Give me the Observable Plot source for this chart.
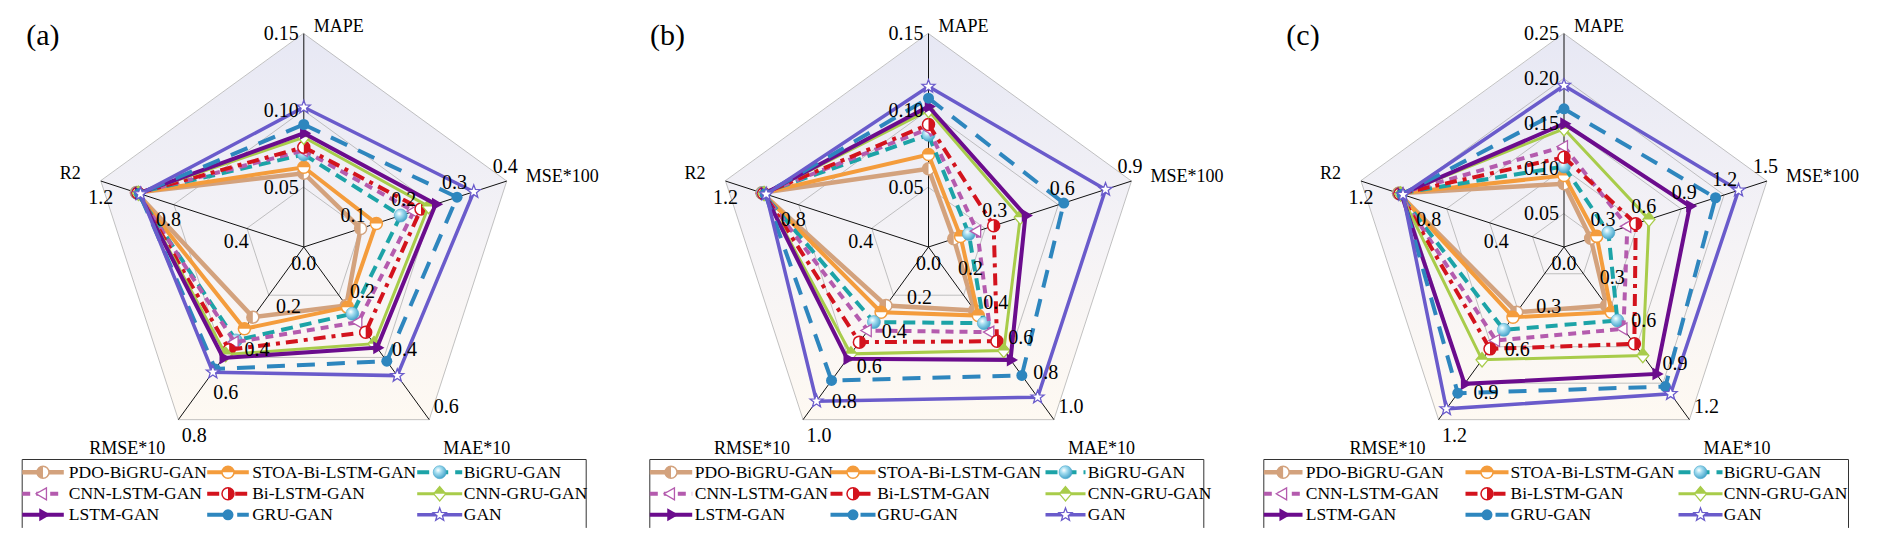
<!DOCTYPE html>
<html><head><meta charset="utf-8">
<script src="https://cdn.jsdelivr.net/npm/d3@7"></script>
<script src="https://cdn.jsdelivr.net/npm/@observablehq/plot@0.6"></script>
<style>body{margin:0;background:#fff} #chart svg{display:block} #chart svg, #chart svg text{font-family:"Liberation Serif","Times New Roman",serif !important}</style>
</head><body>
<svg width="0" height="0" style="position:absolute">
<defs>
<linearGradient id="bg" x1="0" y1="0" x2="0" y2="1">
<stop offset="0" stop-color="#E7E8F4"/>
<stop offset="0.55" stop-color="#F5F3F6"/>
<stop offset="1" stop-color="#FEF9F2"/>
</linearGradient>
<radialGradient id="sphere" cx="0.38" cy="0.35" r="0.7">
<stop offset="0" stop-color="#FFFFFF"/>
<stop offset="0.35" stop-color="#A4DDF0"/>
<stop offset="1" stop-color="#3C9EC6"/>
</radialGradient>
</defs></svg>
<div id="chart"></div>
<script>
// ---------- data ----------
const models = ["PDO-BiGRU-GAN","STOA-Bi-LSTM-GAN","BiGRU-GAN","CNN-LSTM-GAN","Bi-LSTM-GAN","CNN-GRU-GAN","LSTM-GAN","GRU-GAN","GAN"];
const metrics = ["MAPE","MSE*100","MAE*10","RMSE*10","R2"];
const panelLabels = ["(a)","(b)","(c)"];

// panel (a)
const a_MAPE = [0.0592,0.0631,0.0714,0.0740,0.0761,0.0826,0.0852,0.0909,0.1021];
const a_MSE  = [0.112,0.143,0.191,0.217,0.231,0.246,0.260,0.302,0.335];
const a_MAE  = [0.203,0.209,0.232,0.261,0.296,0.336,0.350,0.397,0.447];
const a_RMSE = [0.325,0.379,0.433,0.441,0.476,0.498,0.514,0.565,0.580];
const a_R2   = [0.990,0.988,0.986,0.983,0.981,0.978,0.976,0.972,0.966];
const a_ticks = [[0.05,0.10,0.15],[0.1,0.2,0.3,0.4],[0.2,0.4,0.6],[0.2,0.4,0.6,0.8],[0.0,0.4,0.8,1.2]];

// panel (b)
const b_MAPE = [0.0621,0.0714,0.0842,0.0881,0.0909,0.1000,0.1026,0.1080,0.1156];
const b_MSE  = [0.112,0.142,0.179,0.216,0.289,0.407,0.430,0.600,0.785];
const b_MAE  = [0.368,0.397,0.441,0.493,0.546,0.600,0.654,0.744,0.870];
const b_RMSE = [0.339,0.378,0.435,0.484,0.551,0.619,0.648,0.773,0.893];
const b_R2   = [0.985,0.983,0.981,0.978,0.975,0.972,0.970,0.966,0.960];
const b_ticks = [[0.05,0.10,0.15],[0.3,0.6,0.9],[0.2,0.4,0.6,0.8,1.0],[0.2,0.4,0.6,0.8,1.0],[0.0,0.4,0.8,1.2]];

// panel (c)
const c_MAPE = [0.0834,0.0926,0.1026,0.1248,0.1129,0.1444,0.1500,0.1666,0.1924];
const c_MSE  = [0.197,0.242,0.328,0.468,0.530,0.628,0.930,1.120,1.290];
const c_MAE  = [0.407,0.453,0.511,0.569,0.673,0.754,0.882,0.970,1.020];
const c_RMSE = [0.453,0.488,0.576,0.650,0.708,0.784,0.951,1.016,1.125];
const c_R2   = [0.978,0.976,0.974,0.972,0.970,0.966,0.962,0.958,0.952];
const c_ticks = [[0.05,0.10,0.15,0.20,0.25],[0.3,0.6,0.9,1.2,1.5],[0.3,0.6,0.9,1.2],[0.3,0.6,0.9,1.2],[0.0,0.4,0.8,1.2]];

// ---------- layout ----------
const W = 1892, H = 546;
const CY = 246.5, R = 213.4;
const ANG = [90,18,-54,-126,162].map(d => d*Math.PI/180);
const panels = [
  {label:panelLabels[0], cx:303.3, ticks:a_ticks, values:[a_MAPE,a_MSE,a_MAE,a_RMSE,a_R2], mapeZero:-17.3,
   legend:{left:21.7, sym:[[0,41.6],[185,226.6],[395,440]], text:[46.6,230,441.6], right:564}},
  {label:panelLabels[1], cx:928, ticks:b_ticks, values:[b_MAPE,b_MSE,b_MAE,b_RMSE,b_R2], mapeZero:-17.3,
   legend:{left:649.3, sym:[[0,42.4],[180.7,225.7],[395.7,435.7]], text:[45,227.4,438], right:554}},
  {label:panelLabels[2], cx:1563.5, ticks:c_ticks, values:[c_MAPE,c_MSE,c_MAE,c_RMSE,c_R2], mapeZero:-12,
   legend:{left:1263.3, sym:[[0,38.7],[201.7,244.7],[414.7,458.7]], text:[42,246.7,460], right:584.7}}
];
const LEG_TOP = 459, LEG_BOTTOM = 527, LEG_ROWS = [471.7,493.3,514.3];

const axMax = (p,k) => p.ticks[k][p.ticks[k].length-1];
function radius(p,k,v){
  const M = axMax(p,k);
  if (k === 0) return p.mapeZero + (R - p.mapeZero)*v/M;
  return R*v/M;
}
const px = (p,k,v) => p.cx + radius(p,k,v)*Math.cos(ANG[k]);
const py = (p,k,v) => CY - radius(p,k,v)*Math.sin(ANG[k]);
const rx = (p,k,r) => p.cx + r*Math.cos(ANG[k]);
const ry = (p,k,r) => CY - r*Math.sin(ANG[k]);

// ---------- styles ----------
const symbols = {
  halfLeft:{draw(c,s){const r=Math.sqrt(s/Math.PI);c.moveTo(0,-r);c.arc(0,0,r,-Math.PI/2,Math.PI/2,true);c.closePath();}},
  halfRight:{draw(c,s){const r=Math.sqrt(s/Math.PI);c.moveTo(0,-r);c.arc(0,0,r,-Math.PI/2,Math.PI/2,false);c.closePath();}},
  halfTop:{draw(c,s){const r=Math.sqrt(s/Math.PI);c.moveTo(-r,0);c.arc(0,0,r,Math.PI,2*Math.PI,false);c.closePath();}},
  triRight:{draw(c,s){const r=Math.sqrt(s/Math.PI)*1.15;c.moveTo(r,0);c.lineTo(-r/2,-0.866*r);c.lineTo(-r/2,0.866*r);c.closePath();}},
  triLeft:{draw(c,s){const r=Math.sqrt(s/Math.PI)*1.15;c.moveTo(-r,0);c.lineTo(r/2,-0.866*r);c.lineTo(r/2,0.866*r);c.closePath();}},
  diamond:{draw(c,s){const r=Math.sqrt(s/Math.PI);c.moveTo(0,-r*1.2);c.lineTo(r,0);c.lineTo(0,r*1.2);c.lineTo(-r,0);c.closePath();}},
  diaTop:{draw(c,s){const r=Math.sqrt(s/Math.PI);c.moveTo(-r,0);c.lineTo(0,-r*1.2);c.lineTo(r,0);c.closePath();}},
  star:{draw(c,s){const R0=Math.sqrt(s/Math.PI)*1.05, r0=R0*0.42;for(let j=0;j<10;j++){const a=-Math.PI/2+j*Math.PI/5, rr=j%2?r0:R0; j?c.lineTo(rr*Math.cos(a),rr*Math.sin(a)):c.moveTo(rr*Math.cos(a),rr*Math.sin(a));}c.closePath();}}
};
const STY = [
  {color:"#D3A27D", w:4.5, dash:null},
  {color:"#F49C3C", w:4, dash:null},
  {color:"#1CA3A7", w:4, dash:"12,7"},
  {color:"#B45BAE", w:4, dash:"8,6"},
  {color:"#D3131D", w:4, dash:"12,6,4,6"},
  {color:"#A8CC4A", w:3, dash:null},
  {color:"#6B0C8D", w:4, dash:null},
  {color:"#2E86BE", w:4, dash:"18,12"},
  {color:"#6A5BCB", w:3.5, dash:null}
];
function markerLayers(i){
  const c = STY[i].color;
  switch(i){
    case 0: return [{symbol:"circle",r:6,fill:"white",stroke:c,strokeWidth:1.5},{symbol:symbols.halfLeft,r:6,fill:c}];
    case 1: return [{symbol:"circle",r:6,fill:"white",stroke:c,strokeWidth:1.5},{symbol:symbols.halfTop,r:6,fill:c}];
    case 2: return [{symbol:"circle",r:6.5,fill:"url(#sphere)",stroke:"#4BA9CC",strokeWidth:0.6}];
    case 3: return [{symbol:symbols.triLeft,r:6,fill:"white",stroke:c,strokeWidth:1.3}];
    case 4: return [{symbol:"circle",r:6,fill:"white",stroke:c,strokeWidth:1.5},{symbol:symbols.halfRight,r:6,fill:c}];
    case 5: return [{symbol:symbols.diamond,r:6,fill:"white",stroke:c,strokeWidth:1.3},{symbol:symbols.diaTop,r:6,fill:c}];
    case 6: return [{symbol:symbols.triRight,r:6.5,fill:c}];
    case 7: return [{symbol:"circle",r:5.5,fill:c}];
    case 8: return [{symbol:symbols.star,r:6.5,fill:"white",stroke:c,strokeWidth:1.3}];
  }
}

// ---------- marks ----------
const marks = [];
const FONT = "Liberation Serif";

panels.forEach(p => {
  const outer = metrics.map((m,k) => ({k}));
  marks.push(Plot.line(outer, {x:d=>rx(p,d.k,R), y:d=>ry(p,d.k,R), curve:"linear-closed", fill:"url(#bg)", stroke:"#A8A8A8", strokeWidth:0.7}));
  p.ticks[0].filter(t => t > 0 && t < axMax(p,0)).forEach(t => {
    const r = radius(p,0,t);
    marks.push(Plot.line(outer, {x:d=>rx(p,d.k,r), y:d=>ry(p,d.k,r), curve:"linear-closed", stroke:"#A8A8A8", strokeWidth:0.7}));
  });
  marks.push(Plot.link(outer, {x1:()=>p.cx, y1:()=>CY, x2:d=>rx(p,d.k,R), y2:d=>ry(p,d.k,R), stroke:"#111", strokeWidth:1}));
  models.forEach((name,i) => {
    const rows = metrics.map((m,k) => ({k, v:p.values[k][i]}));
    const s = STY[i];
    marks.push(Plot.line(rows, {x:d=>px(p,d.k,d.v), y:d=>py(p,d.k,d.v), curve:"linear-closed",
      stroke:s.color, strokeWidth:s.w, strokeDasharray:s.dash || undefined, strokeLinejoin:"miter", strokeMiterlimit:4, strokeLinecap:"butt"}));
    markerLayers(i).forEach(L => marks.push(Plot.dot(rows, {x:d=>px(p,d.k,d.v), y:d=>py(p,d.k,d.v), ...L})));
  });
  const OFF = [{dx:-5,dy:0,a:"end"},{dx:-1.5,dy:-14.5,a:"middle"},{dx:17,dy:-13,a:"middle"},{dx:16,dy:16,a:"middle"},{dx:0,dy:16.5,a:"middle"}];
  p.ticks.forEach((ts,k) => {
    const rows = ts.map(t => ({k,t}));
    marks.push(Plot.text(rows, {x:d=>px(p,k,d.t), y:d=>py(p,k,d.t), text:d=>k===0?d.t.toFixed(2):d.t.toFixed(1),
      dx:OFF[k].dx, dy:OFF[k].dy, textAnchor:OFF[k].a, fontSize:20, fontFamily:FONT, fill:"#000"}));
  });
  const TOFF = [{dx:10,dy:-7,a:"start"},{dx:19,dy:-5,a:"start"},{dx:14,dy:29,a:"start"},{dx:-13,dy:29,a:"end"},{dx:-20,dy:-8,a:"end"}];
  metrics.forEach((m,k) => {
    marks.push(Plot.text([{k,m}], {x:d=>rx(p,k,R), y:d=>ry(p,k,R), text:d=>d.m, dx:TOFF[k].dx, dy:TOFF[k].dy, textAnchor:TOFF[k].a, fontSize:18, fontFamily:FONT, fill:"#000"}));
  });
  marks.push(Plot.text([p.label], {x:()=>p.cx-261, y:()=>35, text:d=>d, fontSize:30, fontFamily:FONT, fill:"#000"}));
  const L = p.legend;
  marks.push(Plot.line([[L.left,LEG_BOTTOM],[L.left,LEG_TOP],[L.left+L.right,LEG_TOP],[L.left+L.right,LEG_BOTTOM]],
    {x:d=>d[0], y:d=>d[1], stroke:"#333", strokeWidth:1, strokeLinejoin:"miter"}));
  models.forEach((name,i) => {
    const col = i%3, row = Math.floor(i/3), s = STY[i];
    const item = [{name, x1:L.left+L.sym[col][0], x2:L.left+L.sym[col][1], y:LEG_ROWS[row], xt:L.left+L.text[col]}];
    marks.push(Plot.link(item, {x1:"x1", x2:"x2", y1:"y", y2:"y", stroke:s.color, strokeWidth:s.w, strokeDasharray:s.dash || undefined, strokeLinecap:"butt"}));
    markerLayers(i).forEach(Lr => marks.push(Plot.dot(item, {x:d=>(d.x1+d.x2)/2, y:"y", ...Lr})));
    marks.push(Plot.text(item, {x:"xt", y:"y", text:"name", textAnchor:"start", fontSize:17.5, fontFamily:FONT, fill:"#000"}));
  });
});

const chart = Plot.plot({
  width:W, height:H, margin:0,
  x:{domain:[0,W], range:[0,W], axis:null},
  y:{domain:[0,H], range:[0,H], axis:null},
  style:{fontFamily:"Liberation Serif, serif", background:"white"},
  marks
});
document.getElementById("chart").appendChild(chart);
</script>
</body></html>
